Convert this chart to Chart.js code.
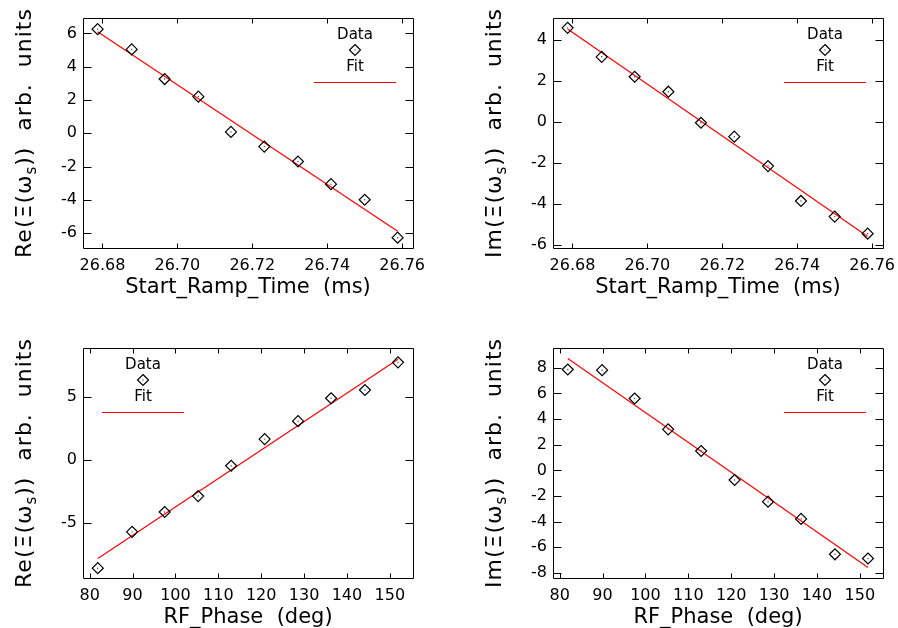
<!DOCTYPE html>
<html>
<head>
<meta charset="utf-8">
<script src="https://cdn.jsdelivr.net/npm/chart.js@4"></script>
<style>
  html, body { margin: 0; padding: 0; background: #fff; overflow: hidden; }
  body { width: 898px; height: 628px; position: relative; }
  .panel { position: absolute; width: 449px; height: 314px; }
</style>
</head>
<body>
<div class="panel" style="left:0;top:0"><canvas id="reRamp" width="449" height="314"></canvas></div>
<div class="panel" style="left:470px;top:0"><canvas id="imRamp" width="449" height="314"></canvas></div>
<div class="panel" style="left:0;top:330px"><canvas id="rePhase" width="449" height="314"></canvas></div>
<div class="panel" style="left:470px;top:330px"><canvas id="imPhase" width="449" height="314"></canvas></div>
<script>
// x values
const startRampTime = [26.6787, 26.6878, 26.6966, 26.7056, 26.7143, 26.7232, 26.7322, 26.7410, 26.7500, 26.7588];
const rfPhase = [81.9, 89.9, 97.5, 105.3, 113.0, 120.8, 128.6, 136.3, 144.2, 151.9];

// measured values
const reRamp = [6.26, 5.04, 3.26, 2.20, 0.08, -0.80, -1.70, -3.06, -4.00, -6.28];
const imRamp = [4.57, 3.16, 2.19, 1.46, -0.05, -0.73, -2.16, -3.86, -4.62, -5.45];
const rePhase = [-8.60, -5.71, -4.13, -2.86, -0.45, 1.67, 3.10, 4.92, 5.58, 7.78];
const imPhase = [7.87, 7.82, 5.61, 3.20, 1.51, -0.75, -2.44, -3.79, -6.55, -6.88];

// fit line values at the first and last x
const reRampFit = [6.10, -5.90];
const imRampFit = [4.52, -5.59];
const rePhaseFit = [-7.83, 8.02];
const imPhaseFit = [8.73, -7.58];

// axis ranges
const rampRange = [26.6748, 26.7629];
const phaseRange = [78.45, 155.4];

Chart.defaults.font.family = '"DejaVu Sans"';
Chart.defaults.color = '#000';

// frame + inward tick marks on all four sides
const frameTicks = {
  id: 'frameTicks',
  afterDatasetsDraw(chart) {
    const { ctx, chartArea: a, scales } = chart;
    const L = Math.round(a.left) + 0.5, R = Math.round(a.right) + 0.5;
    const T = Math.round(a.top) + 0.5, B = Math.round(a.bottom) + 0.5;
    ctx.save();
    ctx.strokeStyle = '#000';
    ctx.lineWidth = 1;
    ctx.beginPath();
    scales.x.ticks.forEach(t => {
      const px = Math.round(scales.x.getPixelForValue(t.value)) + 0.5;
      ctx.moveTo(px, B); ctx.lineTo(px, B - 5);
      ctx.moveTo(px, T); ctx.lineTo(px, T + 5);
    });
    scales.y.ticks.forEach(t => {
      const py = Math.round(scales.y.getPixelForValue(t.value)) + 0.5;
      ctx.moveTo(L, py); ctx.lineTo(L + 8, py);
      ctx.moveTo(R, py); ctx.lineTo(R - 8, py);
    });
    ctx.rect(L, T, R - L, B - T);
    ctx.stroke();
    ctx.restore();
  }
};

function diamond(ctx, x, y, r) {
  ctx.beginPath();
  ctx.moveTo(x, y - r); ctx.lineTo(x + r, y); ctx.lineTo(x, y + r); ctx.lineTo(x - r, y);
  ctx.closePath();
  ctx.stroke();
  ctx.fillRect(x - 0.5, y - 0.5, 1, 1);
}

// "Data / diamond / Fit / red line" key
const fitLegend = {
  id: 'fitLegend',
  afterDraw(chart, args, opts) {
    const { ctx, chartArea: a } = chart;
    const ds = chart.data.datasets;
    const cx = opts.side === 'right' ? a.right - 58 : a.left + 60;
    ctx.save();
    ctx.font = '15px "DejaVu Sans"';
    ctx.fillStyle = '#000';
    ctx.textAlign = 'center';
    ctx.textBaseline = 'middle';
    ctx.fillText(ds[0].label, cx, a.top + 17);
    ctx.strokeStyle = '#000';
    ctx.lineWidth = 1.2;
    diamond(ctx, cx, a.top + 32, ds[0].pointRadius);
    ctx.fillText(ds[2].label, cx, a.top + 49);
    ctx.strokeStyle = ds[2].borderColor;
    ctx.lineWidth = 1.2;
    ctx.beginPath();
    ctx.moveTo(cx - 41, a.top + 64.5); ctx.lineTo(cx + 41, a.top + 64.5);
    ctx.stroke();
    ctx.restore();
  }
};

// rotated y title with subscript s
const yTitle = {
  id: 'yTitle',
  afterDraw(chart, args, opts) {
    const { ctx, chartArea: a } = chart;
    const big = '22px "DejaVu Sans"', small = '15px "DejaVu Sans"';
    const parts = [[opts.pre, big, 0], ['s', small, 7], [opts.post, big, 0]];
    ctx.save();
    ctx.translate(a.left - 58, (a.top + a.bottom) / 2);
    ctx.rotate(-Math.PI / 2);
    ctx.fillStyle = '#000';
    ctx.textBaseline = 'middle';
    ctx.textAlign = 'left';
    ctx.letterSpacing = '1px';
    let total = 0;
    parts.forEach(p => { ctx.font = p[1]; total += ctx.measureText(p[0]).width; });
    let x = -total / 2;
    parts.forEach(p => {
      ctx.font = p[1];
      ctx.fillText(p[0], x, p[2]);
      x += ctx.measureText(p[0]).width;
    });
    ctx.restore();
  }
};

function makePanel(id, xs, ys, fit, o) {
  const pts = xs.map((x, i) => ({ x: x, y: ys[i] }));
  new Chart(document.getElementById(id), {
    type: 'scatter',
    data: {
      datasets: [{
        label: 'Data',
        data: pts,
        pointStyle: 'rectRot',
        pointRadius: 5.5,
        borderColor: '#000',
        borderWidth: 1.2,
        backgroundColor: 'rgba(0,0,0,0)',
        clip: false
      }, {
        label: 'dot',
        data: pts,
        pointStyle: 'circle',
        pointRadius: 0.7,
        borderWidth: 0,
        backgroundColor: '#444'
      }, {
        label: 'Fit',
        data: [{ x: xs[0], y: fit[0] }, { x: xs[xs.length - 1], y: fit[1] }],
        showLine: true,
        borderColor: '#ff0000',
        borderWidth: 1.2,
        pointRadius: 0
      }]
    },
    options: {
      responsive: false,
      animation: false,
      events: [],
      layout: { padding: { top: 18, right: 36, left: 0, bottom: 0 } },
      scales: {
        x: {
          type: 'linear',
          min: o.xRange[0],
          max: o.xRange[1],
          grid: { display: false, drawTicks: false },
          border: { display: false },
          ticks: {
            stepSize: o.xStep,
            includeBounds: false,
            autoSkip: false,
            maxRotation: 0,
            padding: 8,
            font: { size: 16 },
            callback: o.xFmt
          },
          title: { display: true, text: o.xTitle, font: { size: 21 }, padding: { top: 0, bottom: 14 } },
          afterFit: s => { s.height = 66; }
        },
        y: {
          min: o.yRange[0],
          max: o.yRange[1],
          grid: { display: false, drawTicks: false },
          border: { display: false },
          ticks: { stepSize: o.yStep, includeBounds: false, padding: 6, font: { size: 16 } },
          afterFit: s => { s.width = 83; }
        }
      },
      plugins: {
        legend: { display: false },
        tooltip: { enabled: false },
        fitLegend: { side: o.legendSide },
        yTitle: { pre: o.yPre + '(Ξ(ω', post: '))  arb.  units' }
      }
    },
    plugins: [frameTicks, fitLegend, yTitle]
  });
}

const rampFmt = v => v.toFixed(2);
const phaseFmt = v => String(Math.round(v));

makePanel('reRamp', startRampTime, reRamp, reRampFit, {
  xRange: rampRange, xStep: 0.02, xFmt: rampFmt, xTitle: 'Start_Ramp_Time  (ms)',
  yRange: [-6.9, 6.93], yStep: 2, yPre: 'Re', legendSide: 'right'
});
makePanel('imRamp', startRampTime, imRamp, imRampFit, {
  xRange: rampRange, xStep: 0.02, xFmt: rampFmt, xTitle: 'Start_Ramp_Time  (ms)',
  yRange: [-6.15, 5.05], yStep: 2, yPre: 'Im', legendSide: 'right'
});
makePanel('rePhase', rfPhase, rePhase, rePhaseFit, {
  xRange: phaseRange, xStep: 10, xFmt: phaseFmt, xTitle: 'RF_Phase  (deg)',
  yRange: [-9.38, 8.92], yStep: 5, yPre: 'Re', legendSide: 'left'
});
makePanel('imPhase', rfPhase, imPhase, imPhaseFit, {
  xRange: phaseRange, xStep: 10, xFmt: phaseFmt, xTitle: 'RF_Phase  (deg)',
  yRange: [-8.4, 9.55], yStep: 2, yPre: 'Im', legendSide: 'right'
});
</script>
</body>
</html>
